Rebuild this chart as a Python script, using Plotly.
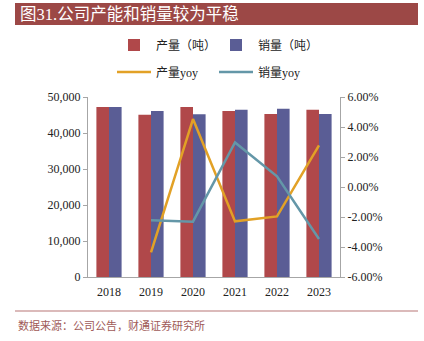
import plotly.graph_objects as go

years = ["2018", "2019", "2020", "2021", "2022", "2023"]
production = [47200, 45100, 47200, 46100, 45300, 46450]
sales = [47200, 46100, 45200, 46450, 46750, 45300]
prod_yoy = [None, -4.36, 4.53, -2.29, -1.96, 2.77]
sales_yoy = [None, -2.22, -2.31, 2.97, 0.71, -3.47]

left_ticks = [0, 10000, 20000, 30000, 40000, 50000]
right_ticks = [-6, -4, -2, 0, 2, 4, 6]

W, H = 424, 341
L, R, T, B = 88, 340, 97, 277

def px(x):
    return (x - L) / (R - L)

def py(y):
    return (B - y) / (B - T)

num_font = "Liberation Serif, Times New Roman, serif"
cjk_font = "Liberation Serif, Noto Sans CJK SC, serif"

fig = go.Figure()
fig.add_trace(go.Bar(x=years, y=production, name="产量（吨）", legend="legend",
                     marker=dict(color="#B0484A", line=dict(width=0))))
fig.add_trace(go.Bar(x=years, y=sales, name="销量（吨）", legend="legend2",
                     marker=dict(color="#5A5D95", line=dict(width=0))))
fig.add_trace(go.Scatter(x=years, y=prod_yoy, name="产量yoy", yaxis="y2", mode="lines", legend="legend3",
                         line=dict(color="#E2A126", width=2.5)))
fig.add_trace(go.Scatter(x=years, y=sales_yoy, name="销量yoy", yaxis="y2", mode="lines", legend="legend4",
                         line=dict(color="#6497A8", width=2.5)))

leg_common = dict(orientation="h", xanchor="left", yanchor="middle",
                  font=dict(size=12, family=cjk_font),
                  bgcolor="rgba(0,0,0,0)", itemwidth=34, borderwidth=0)

fig.update_layout(
    width=W, height=H,
    margin=dict(l=L, r=W - R, t=T, b=H - B, pad=0),
    paper_bgcolor="white", plot_bgcolor="white",
    barmode="group", bargap=0.4, bargroupgap=0,
    font=dict(family=num_font, size=12, color="#222"),
    xaxis=dict(showline=True, linecolor="#A6A6A6", linewidth=1, ticks="", showgrid=False,
               tickfont=dict(size=12, family=num_font), ticklabelstandoff=4),
    yaxis=dict(range=[0, 50000], tickvals=left_ticks, tickformat=",d", showgrid=False,
               showline=True, linecolor="#A6A6A6", linewidth=1, ticks="outside", ticklen=4,
               tickcolor="#A6A6A6", zeroline=False, tickfont=dict(size=12, family=num_font)),
    yaxis2=dict(range=[-6, 6], tickvals=right_ticks,
                ticktext=[f"{v:.2f}%" for v in right_ticks], overlaying="y", side="right",
                showgrid=False, showline=True, linecolor="#A6A6A6", linewidth=1,
                ticks="outside", ticklen=4, tickcolor="#A6A6A6", zeroline=False,
                tickfont=dict(size=12, family=num_font)),
    legend=dict(x=px(112), y=py(45), **leg_common),
    legend2=dict(x=px(214), y=py(45), **leg_common),
    legend3=dict(x=px(112), y=py(72), **leg_common),
    legend4=dict(x=px(214), y=py(72), **leg_common),
    showlegend=True,
)

# Title bar
fig.add_shape(type="rect", xref="paper", yref="paper", x0=px(15), x1=px(418), y0=py(25), y1=py(3),
              fillcolor="#9C4846", line=dict(width=0), layer="below")
fig.add_annotation(xref="paper", yref="paper", x=px(18), y=py(14), xanchor="left", yanchor="middle",
                   text="图31.公司产能和销量较为平稳", showarrow=False,
                   font=dict(size=16.5, color="white", family=cjk_font))
# Bottom line and source
fig.add_shape(type="line", xref="paper", yref="paper", x0=px(15), x1=px(418), y0=py(311), y1=py(311),
              line=dict(color="#CFA3A3", width=1.5))
fig.add_annotation(xref="paper", yref="paper", x=px(16), y=py(325), xanchor="left", yanchor="middle",
                   text="数据来源：公司公告，财通证券研究所", showarrow=False,
                   font=dict(size=11, color="#A05A58", family=cjk_font))

fig.write_html("out.html")
